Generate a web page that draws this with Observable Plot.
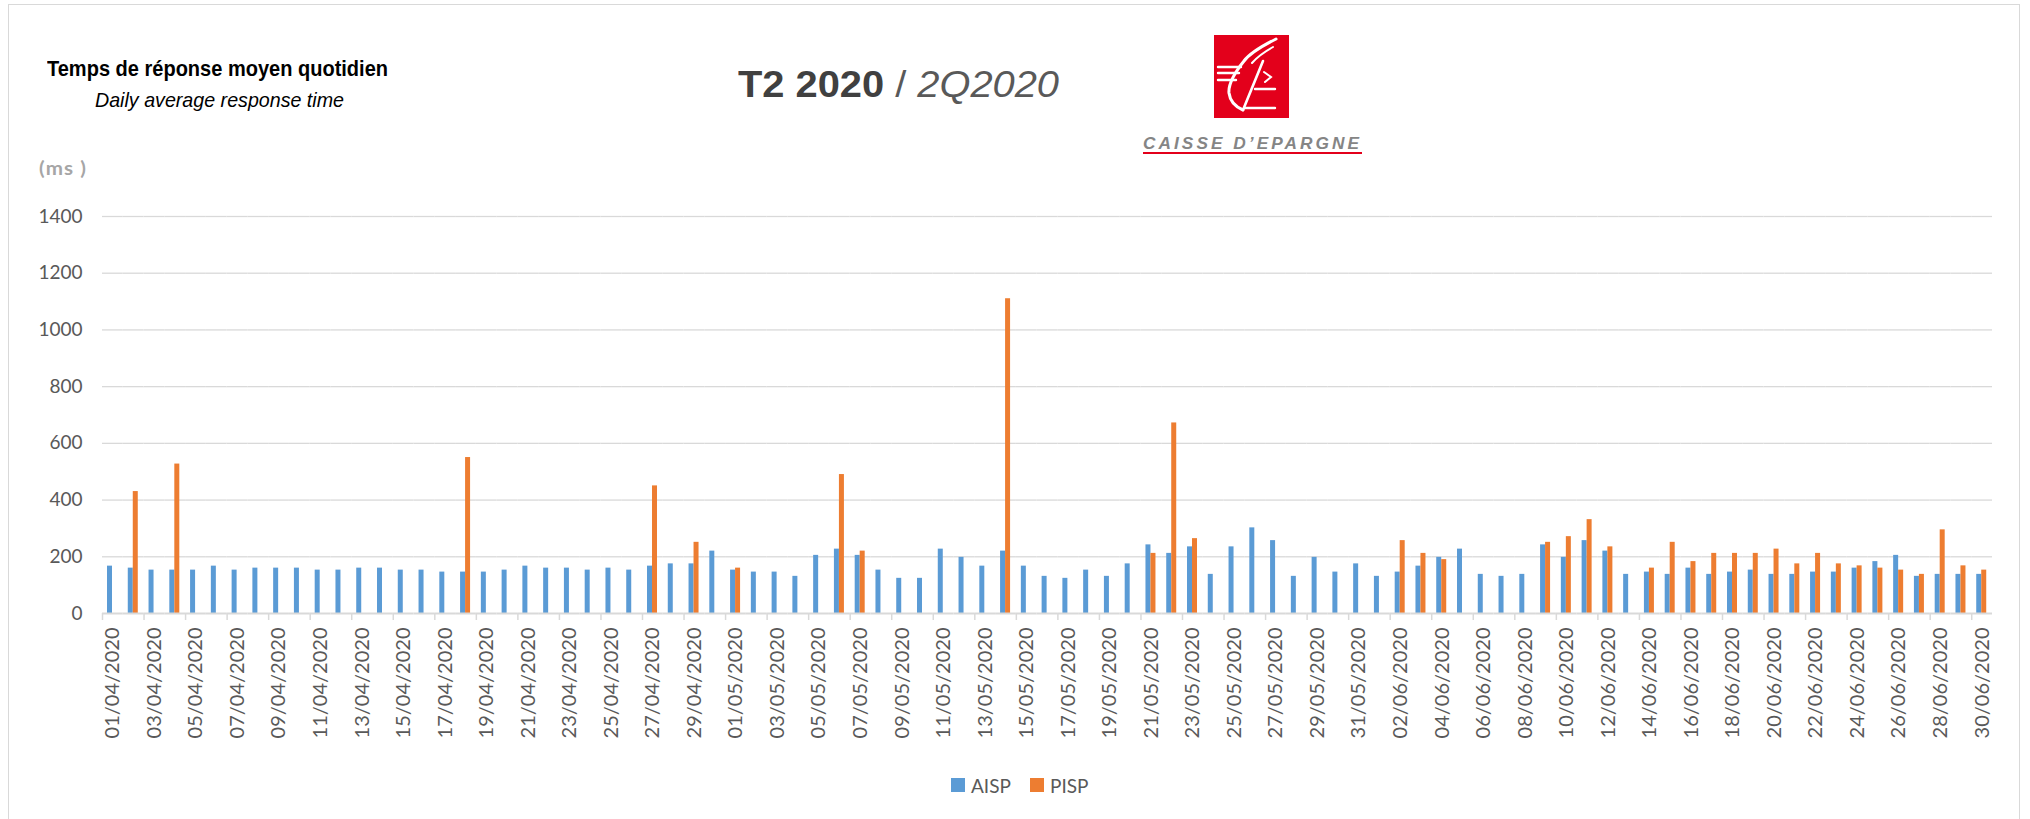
<!DOCTYPE html>
<html>
<head>
<meta charset="utf-8">
<script src="https://cdn.jsdelivr.net/npm/d3@7"></script>
<script src="https://cdn.jsdelivr.net/npm/@observablehq/plot@0.6"></script>
<style>
  html, body { margin: 0; padding: 0; background: #fff; }
  body { width: 2030px; height: 819px; overflow: hidden; position: relative; font-family: "Liberation Sans", Arial, sans-serif; }
  .abs { position: absolute; white-space: nowrap; line-height: 1; }
  #border { position: absolute; left: 8px; top: 4px; width: 2012px; height: 900px; border: 1.5px solid #d9d9d9; box-sizing: border-box; }
  #chart { position: absolute; left: 0; top: 180px; }
  .sw { position: absolute; width: 14px; height: 14px; }
  .lg { position: absolute; font-family: Lato, "Open Sans", sans-serif; font-size: 19px; color: #595959; line-height: 1; }
</style>
</head>
<body>
<div id="border"></div>
<div id="t1" class="abs" style="font-weight:bold;font-size:22px;color:#000;">Temps de réponse moyen quotidien</div>
<div id="t2" class="abs" style="font-style:italic;font-size:21px;color:#000;">Daily average response time</div>
<div id="t3" class="abs" style="font-size:37px;"><span style="font-weight:bold;color:#404040;">T2 2020</span><span style="color:#595959;"> / </span><span style="font-style:italic;color:#595959;">2Q2020</span></div>
<div id="ms" class="abs" style="font-family:Lato,sans-serif;font-weight:bold;font-size:19px;color:#a6a6a6;letter-spacing:1px;">(ms )</div>
<svg id="logo" style="position:absolute;left:1214px;top:35px;" width="75" height="83" viewBox="0 0 75 83">
  <rect width="75" height="83" fill="#e3001b"/>
  <g fill="none" stroke="#fff" stroke-linecap="round">
    <path d="M62 4 C 48 11, 36 18, 30 26 C 22 36, 14 48, 15 58 C 16 66, 22 72, 29 75" stroke-width="3"/>
    <path d="M59 12 C 50 17, 43 22, 38 28" stroke-width="2"/>
    <path d="M29 75 L 49 26" stroke-width="2.6"/>
    <path d="M4 32 H 27 M4 38 H 25 M4 45 H 22" stroke-width="2.4"/>
    <path d="M50 37 L 57 42 L 51 47" stroke-width="2"/>
    <path d="M41 54 H 61 M31 73 H 61" stroke-width="2.4"/>
  </g>
</svg>
<div id="ce" class="abs" style="font-style:italic;font-weight:bold;font-size:17px;color:#858585;letter-spacing:3px;">CAISSE D’EPARGNE</div>
<div style="position:absolute;left:1143px;top:152px;width:219px;height:2px;background:#e3001b;"></div>
<div id="chart"></div>
<div class="sw" style="left:951px;top:778px;background:#5b9bd5;"></div>
<div class="lg" style="left:971px;top:776px;">AISP</div>
<div class="sw" style="left:1030px;top:778px;background:#ed7d31;"></div>
<div class="lg" style="left:1050px;top:776px;">PISP</div>
<script>
// ---- data ----
const days = [
  "01/04/2020","02/04/2020","03/04/2020","04/04/2020","05/04/2020","06/04/2020","07/04/2020","08/04/2020","09/04/2020","10/04/2020",
  "11/04/2020","12/04/2020","13/04/2020","14/04/2020","15/04/2020","16/04/2020","17/04/2020","18/04/2020","19/04/2020","20/04/2020",
  "21/04/2020","22/04/2020","23/04/2020","24/04/2020","25/04/2020","26/04/2020","27/04/2020","28/04/2020","29/04/2020","30/04/2020",
  "01/05/2020","02/05/2020","03/05/2020","04/05/2020","05/05/2020","06/05/2020","07/05/2020","08/05/2020","09/05/2020","10/05/2020",
  "11/05/2020","12/05/2020","13/05/2020","14/05/2020","15/05/2020","16/05/2020","17/05/2020","18/05/2020","19/05/2020","20/05/2020",
  "21/05/2020","22/05/2020","23/05/2020","24/05/2020","25/05/2020","26/05/2020","27/05/2020","28/05/2020","29/05/2020","30/05/2020","31/05/2020",
  "01/06/2020","02/06/2020","03/06/2020","04/06/2020","05/06/2020","06/06/2020","07/06/2020","08/06/2020","09/06/2020","10/06/2020",
  "11/06/2020","12/06/2020","13/06/2020","14/06/2020","15/06/2020","16/06/2020","17/06/2020","18/06/2020","19/06/2020","20/06/2020",
  "21/06/2020","22/06/2020","23/06/2020","24/06/2020","25/06/2020","26/06/2020","27/06/2020","28/06/2020","29/06/2020","30/06/2020"
];
const aisp = [
  167,160,153,153,153,167,153,160,160,160,
  153,153,160,160,153,153,146,146,146,153,
  167,160,160,153,160,153,167,175,175,220,
  153,146,146,131,205,227,205,153,124,124,
  227,198,167,220,167,131,124,153,131,175,
  242,212,235,138,235,302,257,131,198,146,175,
  131,146,167,198,227,138,131,138,242,198,
  257,220,138,146,138,160,138,146,153,138,
  138,146,146,160,183,205,131,138,138,138
];
const pisp = [
  null,430,null,527,null,null,null,null,null,null,
  null,null,null,null,null,null,null,550,null,null,
  null,null,null,null,null,null,450,null,251,null,
  160,null,null,null,null,490,220,null,null,null,
  null,null,null,1110,null,null,null,null,null,null,
  212,672,264,null,null,null,null,null,null,null,null,
  null,257,212,190,null,null,null,null,251,271,
  331,235,null,160,251,183,212,212,212,227,
  175,212,175,168,160,153,138,295,168,153
];
const series = ["AISP", "PISP"];
const seriesColors = ["#5b9bd5", "#ed7d31"];
const yTicks = [0, 200, 400, 600, 800, 1000, 1200, 1400];
const labelDays = days.filter((d, i) => i % 2 === 0);

// ---- table for the library ----
const rows = [];
days.forEach((d, i) => {
  rows.push({date: d, series: "AISP", value: aisp[i]});
  if (pisp[i] != null) rows.push({date: d, series: "PISP", value: pisp[i]});
});

const W = 2030, H = 590, ML = 102, MR = 38, MT = 36, MB = 157;
const bw = (W - ML - MR) / days.length;

const chart = Plot.plot({
  width: W, height: H,
  marginLeft: ML, marginRight: MR, marginTop: MT, marginBottom: MB,
  style: {fontFamily: "Lato, 'Open Sans', sans-serif", fontSize: "19px", color: "#595959", background: "transparent", overflow: "visible"},
  fx: {domain: days, padding: 0, label: null},
  x: {domain: series, paddingInner: 0, paddingOuter: 1, axis: null},
  y: {domain: [0, 1400], label: null},
  color: {domain: series, range: seriesColors},
  marks: [
    Plot.ruleY(yTicks.filter(v => v > 0), {stroke: "#d9d9d9", strokeWidth: 1.3}),
    Plot.barY(rows, {fx: "date", x: "series", y: "value", fill: "series"}),
    Plot.ruleY([0], {stroke: "#d9d9d9", strokeWidth: 2}),
    Plot.axisY({ticks: yTicks, tickFormat: d => String(d), tickSize: 0, tickPadding: 20, label: null, fontSize: 19, fill: "#595959"}),
    Plot.axisFx({anchor: "bottom", ticks: labelDays, tickSize: 0, tickPadding: 14, tickRotate: -90, label: null, fontSize: 20, fill: "#595959", style: {letterSpacing: "1px"}}),
    Plot.axisFx({anchor: "bottom", ticks: labelDays, tickSize: 7, text: null, dx: -bw / 2, label: null, stroke: "#d9d9d9", strokeWidth: 1.5})
  ]
});
document.getElementById("chart").appendChild(chart);

// ---- header text fitting ----
function fit(id, left, cy, width) {
  const el = document.getElementById(id);
  el.style.left = left + "px";
  el.style.top = "0px";
  const r = el.getBoundingClientRect();
  el.style.transformOrigin = "0 50%";
  el.style.transform = `scaleX(${width / r.width})`;
  el.style.top = (cy - r.height / 2) + "px";
}
fit("t1", 47, 69, 341);
fit("t2", 95, 99, 249);
fit("t3", 738, 84, 321);
fit("ms", 39, 167, 48);
fit("ce", 1143, 143, 219);
</script>
</body>
</html>
